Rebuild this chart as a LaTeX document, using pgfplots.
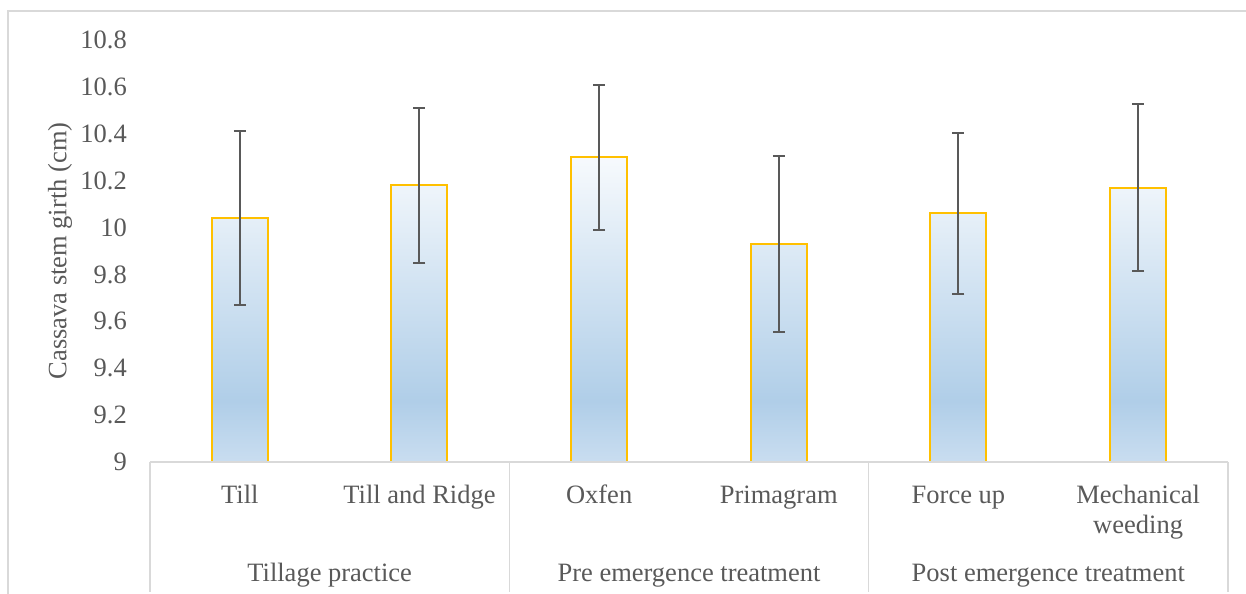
\documentclass[border=0pt]{standalone}
\usepackage{pgfplots}
\pgfplotsset{compat=1.18}
\usepackage{fontspec}
\setmainfont{Liberation Serif}
\definecolor{txt}{HTML}{595959}
\definecolor{gridc}{HTML}{D9D9D9}
\definecolor{barline}{HTML}{FFC000}
\definecolor{errc}{HTML}{595959}
\definecolor{shtop}{HTML}{F7FAFD}
\definecolor{shmid}{HTML}{B0CEE8}
\definecolor{shbot}{HTML}{C9DDF0}
\pgfdeclareverticalshading{barshade}{100bp}{color(0bp)=(shbot); color(25bp)=(shbot); color(35bp)=(shmid); color(75bp)=(shtop); color(100bp)=(shtop)}
\pgfplotstableread{
x y e
0 10.04 0.370
1 10.18 0.330
2 10.30 0.310
3 9.93 0.375
4 10.06 0.345
5 10.17 0.355
}\datatab
\begin{document}
\begin{tikzpicture}[font=\fontsize{26.5bp}{30.5bp}\selectfont]
\begin{axis}[
  scale only axis,
  width=1078bp, height=422bp,
  at={(0,0)}, anchor=south west,
  xmin=-0.5, xmax=5.5,
  ymin=9, ymax=10.8,
  axis on top,
  axis x line*=bottom, axis y line*=left,
  x axis line style={draw=gridc, line width=1.5bp},
  y axis line style={draw=none},
  major tick length=0pt,
  ytick={9,9.2,9.4,9.6,9.8,10,10.2,10.4,10.6,10.8},
  yticklabels={9,9.2,9.4,9.6,9.8,10,10.2,10.4,10.6,10.8},
  yticklabel style={anchor=east, inner sep=0pt, xshift=-23bp, text=txt},
  xtick={0,1,2,3,4,5},
  xticklabels={{\strut Till}, {\strut Till and Ridge}, {\strut Oxfen}, {\strut Primagram}, {\strut Force up}, {\strut Mechanical\\weeding}},
  xticklabel style={anchor=north, align=center, inner sep=0pt, yshift=-19.6bp, text=txt},
  clip=false,
]
\addplot[ybar, bar width=56bp, draw=barline, line width=2bp, shade, shading=barshade,
  error bars/.cd, y dir=both, y explicit,
  error bar style={draw=errc, line width=2bp},
  error mark options={rotate=90, mark size=6bp, draw=errc, line width=2bp}]
  table[x=x, y=y, y error=e] {\datatab};
\end{axis}
\foreach \sx in {0,359.33,718.67,1078}{
  \draw[gridc, line width=1.5bp] (\sx bp,0) -- (\sx bp,-130bp);
}
\node[anchor=base, text=txt, inner sep=0pt] at (179.67bp,-119bp) {Tillage practice};
\node[anchor=base, text=txt, inner sep=0pt] at (539bp,-119bp) {Pre emergence treatment};
\node[anchor=base, text=txt, inner sep=0pt] at (898.33bp,-119bp) {Post emergence treatment};
\node[rotate=90, text=txt, inner sep=0pt] at (-90bp,211bp) {Cassava stem girth (cm)};
\draw[gridc, line width=1.5bp] (-142bp,-140bp) -- (-142bp,451bp) -- (1110bp,451bp);
\pgfresetboundingbox
\path[use as bounding box] (-150bp,-132bp) rectangle (1096bp,462bp);
\end{tikzpicture}
\end{document}
